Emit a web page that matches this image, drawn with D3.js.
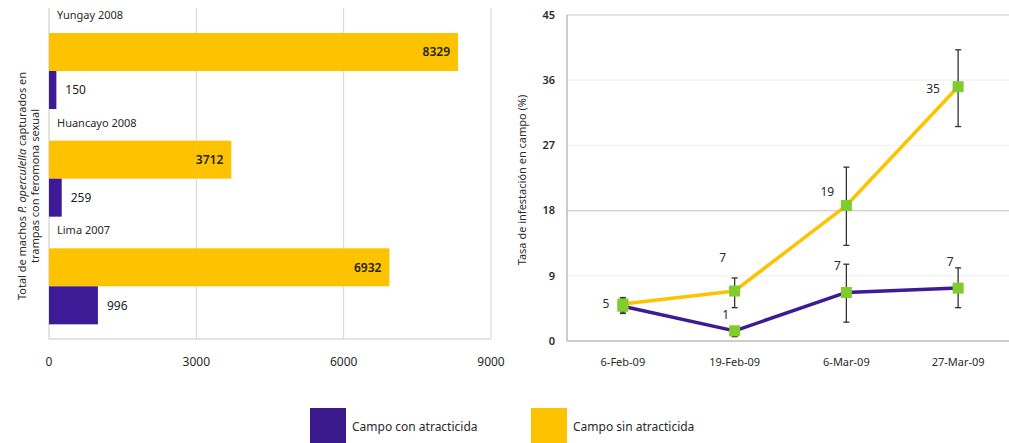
<!DOCTYPE html>
<html><head><meta charset="utf-8">
<script src="https://cdn.jsdelivr.net/npm/d3@7"></script>
<style>
body{margin:0;background:#fff;}
svg{display:block;font-family:"Noto Sans",sans-serif;}
</style></head>
<body>
<svg id="c" width="1009" height="443"></svg>
<script>
// ---- data ----
const groups = ["Yungay 2008", "Huancayo 2008", "Lima 2007"];
const barSin = [8329, 3712, 6932];
const barCon = [150, 259, 996];
const barTicks = [0, 3000, 6000, 9000];

const dates = ["6-Feb-09", "19-Feb-09", "6-Mar-09", "27-Mar-09"];
const lineCon = [4.8, 1.4, 6.7, 7.3];
const lineConLo = [4.0, 0.6, 2.6, 4.6];
const lineConHi = [5.8, 2.0, 10.6, 10.1];
const lineSin = [5.1, 6.9, 18.7, 35.1];
const lineSinLo = [3.8, 4.6, 13.2, 29.6];
const lineSinHi = [6.0, 8.7, 24.0, 40.2];
const lineTicks = [0, 9, 18, 27, 36, 45];
const seriesNames = ["Campo con atracticida", "Campo sin atracticida"];

// ---- styles ----
const PURPLE = "#3d1a96", YELLOW = "#fdc300", GREEN = "#7fcc2a", GRID = "#d4d4d4", TXT = "#2a2a2a";
const svg = d3.select("#c");
const fmt = d3.format(".0f");

// ================= LEFT: horizontal bars =================
const x = d3.scaleLinear().domain([0, 9000]).range([49, 491]);
const yG = d3.scaleBand().domain(groups).range([12, 335]);
const yS = d3.scaleBand().domain(["sin", "con"]).range([21, 97]);

const L = svg.append("g");
L.selectAll("line.g").data(barTicks.slice(1)).join("line")
  .attr("x1", d => x(d)).attr("x2", d => x(d)).attr("y1", 8).attr("y2", 339)
  .attr("stroke", GRID).attr("stroke-width", 1);
L.append("line").attr("x1", x(0)).attr("x2", x(9000)).attr("y1", 339).attr("y2", 339).attr("stroke", "#c8c8c8");
L.append("line").attr("x1", x(0)).attr("x2", x(0)).attr("y1", 8).attr("y2", 339).attr("stroke", "#c8c8c8");
L.selectAll("text.xt").data(barTicks).join("text")
  .attr("x", d => x(d)).attr("y", 366).attr("text-anchor", "middle")
  .attr("font-size", 12).attr("fill", TXT).text(d => d);

const gg = L.selectAll("g.grp").data(groups).join("g").attr("transform", d => `translate(0,${yG(d)})`);
gg.append("text").attr("x", 57).attr("y", 7).attr("font-size", 11).attr("fill", TXT).text(d => d);
gg.append("rect").attr("x", x(0)).attr("y", yS("sin")).attr("height", yS.bandwidth())
  .attr("width", (d, i) => x(barSin[i]) - x(0)).attr("fill", YELLOW);
gg.append("rect").attr("x", x(0)).attr("y", yS("con")).attr("height", yS.bandwidth())
  .attr("width", (d, i) => x(barCon[i]) - x(0)).attr("fill", PURPLE);
gg.append("text").attr("x", (d, i) => x(barSin[i]) - 8).attr("y", yS("sin") + yS.bandwidth() / 2)
  .attr("dy", "0.35em").attr("text-anchor", "end").attr("font-size", 12).attr("font-weight", 600)
  .attr("fill", "#222").text((d, i) => barSin[i]);
gg.append("text").attr("x", (d, i) => x(barCon[i]) + 9).attr("y", yS("con") + yS.bandwidth() / 2)
  .attr("dy", "0.35em").attr("font-size", 12).attr("fill", "#222").text((d, i) => barCon[i]);

const lt = L.append("text").attr("transform", "translate(26,186) rotate(-90)")
  .attr("text-anchor", "middle").attr("font-size", 11).attr("fill", TXT);
const l1 = lt.append("tspan").attr("x", 0).attr("y", 0);
l1.append("tspan").text("Total de machos ");
l1.append("tspan").attr("font-style", "italic").text("P. operculella");
l1.append("tspan").text(" capturados en");
lt.append("tspan").attr("x", 0).attr("y", 13).text("trampas  con feromona sexual");

// ================= RIGHT: lines =================
const xp = d3.scalePoint().domain(dates).range([567, 1014]).padding(0.5);
const yl = d3.scaleLinear().domain([0, 45]).range([341, 15]);
const R = svg.append("g");
R.selectAll("line.g").data(lineTicks.slice(1)).join("line")
  .attr("x1", 567).attr("x2", 1009).attr("y1", d => yl(d)).attr("y2", d => yl(d))
  .attr("stroke", d => d === 45 ? "#c8c8c8" : (d === 18 ? "#cfcfcf" : "#f1f1f1")).attr("stroke-width", 1.2);
R.append("line").attr("x1", 567).attr("x2", 1009).attr("y1", yl(0)).attr("y2", yl(0)).attr("stroke", "#bdbdbd").attr("stroke-width", 1.5);
R.append("line").attr("x1", 567).attr("x2", 567).attr("y1", yl(45)).attr("y2", yl(0)).attr("stroke", "#bdbdbd").attr("stroke-width", 1.5);
R.selectAll("text.yt").data(lineTicks).join("text")
  .attr("x", 555).attr("y", d => yl(d)).attr("dy", "0.35em").attr("text-anchor", "end")
  .attr("font-size", 11).attr("font-weight", 600).attr("fill", TXT).text(d => d);
R.selectAll("text.xt").data(dates).join("text")
  .attr("x", d => xp(d)).attr("y", 366).attr("text-anchor", "middle")
  .attr("font-size", 11).attr("fill", TXT).text(d => d);
R.append("text").attr("transform", "translate(526,180) rotate(-90)").attr("text-anchor", "middle")
  .attr("font-size", 11).attr("fill", TXT).text("Tasa de infestación en campo (%)");

const series = [
  { vals: lineSin, lo: lineSinLo, hi: lineSinHi, color: YELLOW, off: [[-17, 4], [-12, -29], [-19, -10], [-25, 6]] },
  { vals: lineCon, lo: lineConLo, hi: lineConHi, color: PURPLE, off: [[-17, 4], [-9, -12], [-9, -22], [-8, -22]] }
];
const line = d3.line().x((d, i) => xp(dates[i])).y(d => yl(d));
[series[1], series[0]].forEach(s => {
  R.append("path").datum(s.vals).attr("d", line).attr("fill", "none")
    .attr("stroke", s.color).attr("stroke-width", 3.5).attr("stroke-linejoin", "round");
});
series.forEach(s => {
  const eb = R.append("g").attr("stroke", "#333").attr("stroke-width", 1.3);
  dates.forEach((d, i) => {
    const cx = xp(d);
    eb.append("line").attr("x1", cx).attr("x2", cx).attr("y1", yl(s.lo[i])).attr("y2", yl(s.hi[i]));
    eb.append("line").attr("x1", cx - 3).attr("x2", cx + 3).attr("y1", yl(s.lo[i])).attr("y2", yl(s.lo[i]));
    eb.append("line").attr("x1", cx - 3).attr("x2", cx + 3).attr("y1", yl(s.hi[i])).attr("y2", yl(s.hi[i]));
  });
});
series.forEach((s, si) => {
  R.selectAll(null).data(s.vals).join("rect")
    .attr("x", (d, i) => xp(dates[i]) - 5.5).attr("y", d => yl(d) - 5.5)
    .attr("width", 11).attr("height", 11).attr("fill", GREEN);
  // a label identical to the other series' label at the same date is shown once
  const lab = s.vals.map((d, i) => ({ d, i }))
    .filter(o => si === 0 || fmt(o.d) !== fmt(series[0].vals[o.i]));
  R.selectAll(null).data(lab).join("text")
    .attr("x", o => xp(dates[o.i]) + s.off[o.i][0]).attr("y", o => yl(o.d) + s.off[o.i][1])
    .attr("text-anchor", "middle").attr("font-size", 12).attr("fill", TXT)
    .text(o => fmt(o.d));
});

// ================= legend =================
const legX = [310, 531];
const lg = svg.selectAll("g.leg").data(seriesNames).join("g").attr("transform", (d, i) => `translate(${legX[i]},408)`);
lg.append("rect").attr("width", 36).attr("height", 36).attr("fill", (d, i) => i === 0 ? "#3b1a8e" : YELLOW);
lg.append("text").attr("x", 42).attr("y", 23).attr("font-size", 12).attr("fill", TXT).text(d => d);
</script>
</body></html>
